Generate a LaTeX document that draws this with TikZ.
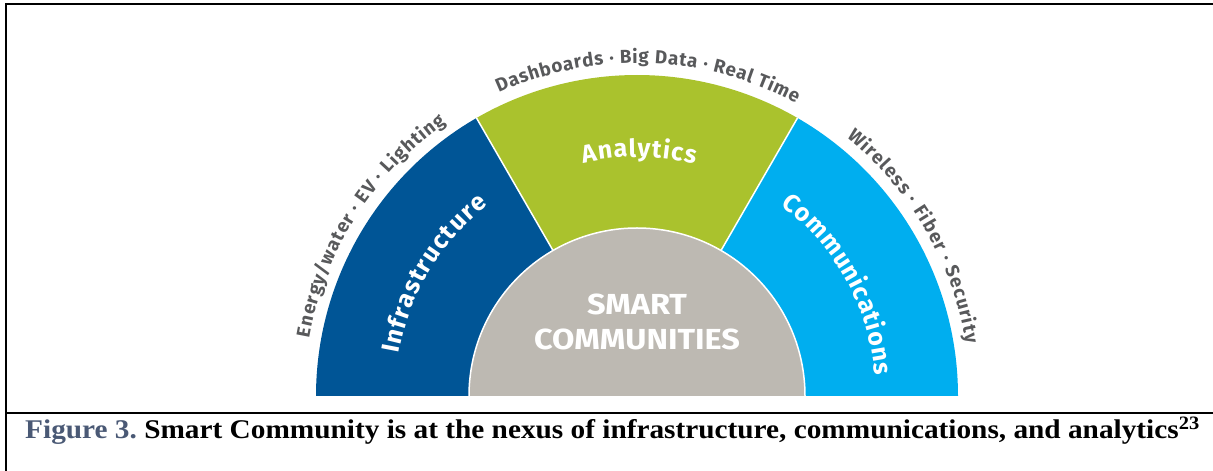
\documentclass[tikz,border=0pt]{standalone}
\usepackage{fontspec}
\setmainfont{Liberation Serif}
\setsansfont{Fira Sans}
\usetikzlibrary{decorations.text}
\definecolor{infra}{RGB}{0,85,150}
\definecolor{anal}{RGB}{170,194,45}
\definecolor{comm}{RGB}{0,174,239}
\definecolor{core}{RGB}{189,185,178}
\definecolor{labelgrey}{RGB}{88,89,91}
\definecolor{figblue}{RGB}{74,89,117}
\newcommand\whitelab{\sffamily\bfseries\fontsize{25}{25}\selectfont}
\newcommand\greylab{\sffamily\bfseries\fontsize{18.8}{18.8}\selectfont}
\tikzset{
  frameline/.style={line width=2.5pt, black},
  sepline/.style={white, line width=1.5pt},
  arclabel/.style={decorate, decoration={text along path, text align=fit to path, text color=white, text={|\whitelab|#1}}},
  outerlabel/.style={decorate, decoration={text along path, text align=fit to path, text color=labelgrey, text={|\greylab|#1}}},
  coretext/.style={anchor=base, font=\sffamily\bfseries\fontsize{29}{29}\selectfont, text=white, inner sep=0pt, xscale=1.12},
}
\begin{document}
\frenchspacing
\begin{tikzpicture}[x=1pt,y=1pt]
\useasboundingbox (0,0) rectangle (1213,471);
% frame
\draw[frameline] (6,0) -- (6,467) -- (1213,467);
\draw[frameline] (6,58) -- (1213,58);
\coordinate (C) at (637,75);
% sectors
\fill[infra] (C) -- ++(180:321pt) arc[start angle=180, end angle=120, radius=321pt] -- cycle;
\fill[anal] (C) -- ++(120:321pt) arc[start angle=120, end angle=60, radius=321pt] -- cycle;
\fill[comm] (C) -- ++(60:321pt) arc[start angle=60, end angle=0, radius=321pt] -- cycle;
\draw[sepline] (C) -- ++(120:321pt);
\draw[sepline] (C) -- ++(60:321pt);
\fill[core] (C) ++(168pt,0) arc[start angle=0, end angle=180, radius=168pt] -- cycle;
\draw[sepline] (C) ++(168pt,0) arc[start angle=0, end angle=180, radius=168pt];
% labels in sectors
\path[arclabel=Infrastructure] ([shift={(C)}]170:242pt) arc[start angle=170, end angle=128, radius=242pt];
\path[arclabel=Analytics] ([shift={(C)}]103:239pt) arc[start angle=103, end angle=76, radius=239pt];
\path[arclabel=Communications] ([shift={(C)}]53:239pt) arc[start angle=53, end angle=5, radius=239pt];
% outer labels
\path[outerlabel={Energy/water · EV · Lighting}] ([shift={(C)}]170:333pt) arc[start angle=170, end angle=125, radius=333pt];
\path[outerlabel={Dashboards · Big Data · Real Time}] ([shift={(C)}]114.5:333pt) arc[start angle=114.5, end angle=61.5, radius=333pt];
\path[outerlabel={Wireless · Fiber · Security}] ([shift={(C)}]51:333pt) arc[start angle=51, end angle=9, radius=333pt];
% centre text
\node[coretext] (smart) at (637,156) {SMART};
\node[coretext] (communities) at (637,121) {COMMUNITIES};
% caption
\node[anchor=base west, inner sep=0pt, xscale=1.085, font=\bfseries\fontsize{27}{27}\selectfont] (caption) at (25,32) {\textcolor{figblue}{Figure 3.} Smart Community is at the nexus of infrastructure, communications, and analytics\textsuperscript{23}};
\end{tikzpicture}
\end{document}
